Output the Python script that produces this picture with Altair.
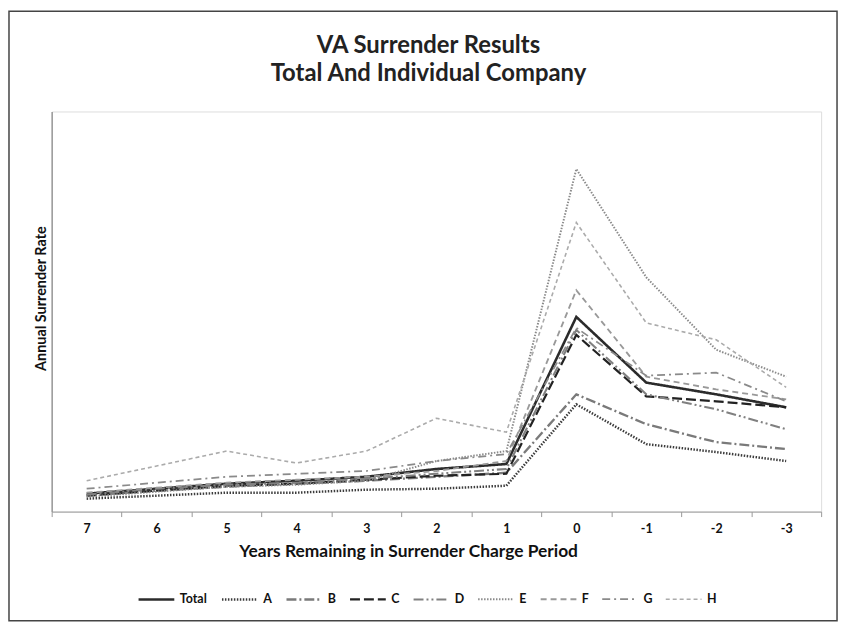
import altair as alt
import pandas as pd

years = ["7", "6", "5", "4", "3", "2", "1", "0", "-1", "-2", "-3"]
series = ["Total", "A", "B", "C", "D", "E", "F", "G", "H"]

total = [0.90, 1.15, 1.40, 1.55, 1.75, 2.14, 2.39, 9.78, 6.48, 5.89, 5.24]
a_vals = [0.65, 0.80, 0.95, 0.95, 1.10, 1.15, 1.30, 5.39, 3.39, 2.99, 2.54]
b_vals = [0.80, 1.05, 1.25, 1.40, 1.55, 1.75, 1.95, 5.89, 4.39, 3.49, 3.14]
c_vals = [0.80, 1.05, 1.30, 1.40, 1.60, 1.80, 1.90, 8.88, 5.79, 5.54, 5.24]
d_vals = [0.85, 1.15, 1.35, 1.45, 1.65, 1.90, 2.14, 9.13, 5.89, 5.14, 4.14]
e_vals = [0.75, 1.00, 1.25, 1.35, 1.55, 2.54, 3.04, 17.21, 11.77, 8.13, 6.78]
f_vals = [0.95, 1.20, 1.45, 1.60, 1.75, 2.04, 2.54, 11.12, 6.78, 6.14, 5.64]
g_vals = [1.15, 1.45, 1.75, 1.90, 2.04, 2.54, 2.89, 9.23, 6.83, 6.98, 5.54]
h_vals = [1.55, 2.29, 3.04, 2.44, 3.04, 4.69, 3.99, 14.52, 9.48, 8.63, 6.24]

values = [total, a_vals, b_vals, c_vals, d_vals, e_vals, f_vals, g_vals, h_vals]

colors = ["#2b2b2b", "#3c3c3c", "#7a7a7a", "#222222", "#808080", "#8a8a8a", "#999999", "#8a8a8a", "#ababab"]
dashes = [[1, 0], [1.5, 1.5], [10, 3, 2, 3], [10, 4], [10, 3, 2, 3, 2, 3], [1.5, 1.5], [6, 4], [8, 4, 2, 4], [4, 3]]
widths = [2.6, 1.6, 2.0, 2.0, 2.0, 1.6, 2.0, 2.0, 2.0]

rows = []
for s, vals in zip(series, values):
    for y, v in zip(years, vals):
        rows.append({"series": s, "year": y, "rate": v})
df = pd.DataFrame(rows)

FONT = "Lato"

legend = alt.Legend(
    title=None, orient="none", legendX=86, legendY=472, direction="horizontal",
    columns=9, symbolType="stroke", symbolSize=1296, labelFont=FONT,
    labelFontWeight="bold", labelFontSize=12.5, labelColor="#111111",
    labelOffset=4, columnPadding=9, padding=0,
)

lines = alt.Chart(df).mark_line().encode(
    x=alt.X("year:N", sort=years, bandPosition=0.5,
            scale=alt.Scale(type="band", paddingInner=0, paddingOuter=0),
            axis=alt.Axis(title="Years Remaining in Surrender Charge Period",
                          labelAngle=0, tickBand="extent", tickSize=5,
                          tickColor="#999999", domainColor="#999999",
                          labelFont=FONT, labelFontWeight="bold", labelFontSize=12.5,
                          labelColor="#111111", labelPadding=6,
                          titleFont=FONT, titleFontWeight="bold", titleFontSize=17.5,
                          titleColor="#111111", titlePadding=8, titleX=359)),
    y=alt.Y("rate:Q", scale=alt.Scale(domain=[0, 20.1], nice=False),
            axis=alt.Axis(title="Annual Surrender Rate", labels=False, ticks=False,
                          grid=False, domainColor="#999999", domainWidth=1.5,
                          titleFont=FONT, titleFontWeight="bold", titleFontSize=14.5,
                          titleColor="#111111", titlePadding=3, titleY=188)),
    color=alt.Color("series:N", sort=series,
                    scale=alt.Scale(domain=series, range=colors), legend=legend),
    strokeDash=alt.StrokeDash("series:N", sort=series,
                              scale=alt.Scale(domain=series, range=dashes), legend=legend),
    strokeWidth=alt.StrokeWidth("series:N", sort=series,
                                scale=alt.Scale(domain=series, range=widths), legend=legend),
    detail="series:N",
)

frame = alt.Chart(pd.DataFrame({"f": [0]})).mark_rect(
    fill=None, stroke="#444444", strokeWidth=1.5, clip=False
).encode(
    x=alt.value(-43), x2=alt.value(791), y=alt.value(-101), y2=alt.value(513)
)

chart = alt.layer(lines, frame).properties(
    width=775, height=403,
    title=alt.TitleParams(
        text=["VA Surrender Results", "Total And Individual Company"],
        font=FONT, fontSize=24, fontWeight="bold", color="#222222",
        anchor="middle", frame="group", dx=-8, offset=0, dy=76, lineHeight=28,
    ),
    autosize=alt.AutoSizeParams(type="none"),
    padding={"left": 44, "top": 102, "right": 20, "bottom": 112},
).configure_view(stroke=None).configure(background="white")

chart.save("out.html", embed_options={"renderer": "svg", "actions": False})
